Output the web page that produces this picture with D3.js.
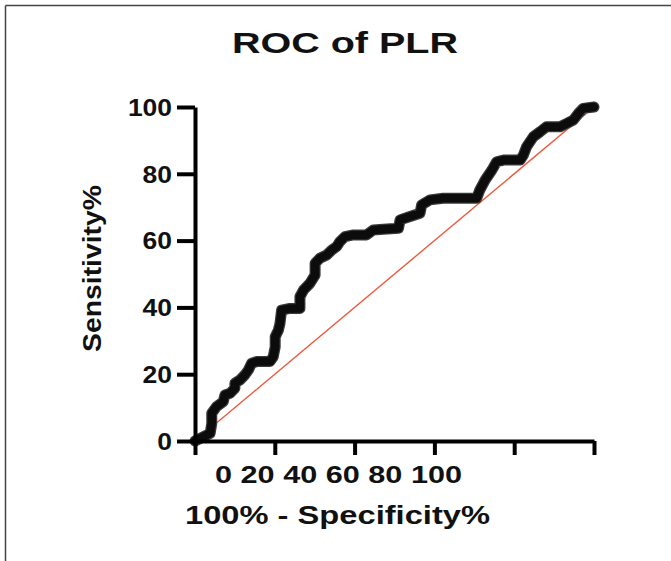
<!DOCTYPE html>
<html>
<head>
<meta charset="utf-8">
<script src="https://cdn.jsdelivr.net/npm/d3@7"></script>
<style>
  html, body { margin: 0; padding: 0; background: #fff; }
  svg { display: block; }
  text { font-family: "Liberation Sans", Arial, sans-serif; font-weight: bold; fill: #111; }
</style>
</head>
<body>
<svg id="chart" width="671" height="561"></svg>
<script>
// ---- data ----
const title = "ROC of PLR";
const xLabel = "100% - Specificity%";
const yLabel = "Sensitivity%";
const xTickValues = [0, 20, 40, 60, 80, 100];
const xTickLabels = ["0", "20", "40", "60", "80", "100"];
const yTickValues = [0, 20, 40, 60, 80, 100];
const rocX = [0, 3.8, 4.2, 4.2, 5.4, 7.1, 7.5, 8.8, 10.0, 10.0, 11.3, 12.5, 13.4, 14.2, 15.5, 18.8, 19.6, 20.1, 20.1, 20.9, 21.3, 21.7, 23.8, 26.3, 26.3, 27.2, 28.8, 30.1, 30.1, 31.3, 33.0, 34.3, 35.5, 36.3, 37.6, 39.7, 43.0, 44.7, 47.2, 51.0, 51.4, 53.9, 56.4, 56.8, 58.9, 62.2, 70.6, 71.4, 72.7, 74.4, 75.6, 77.3, 81.5, 82.3, 83.1, 84.8, 86.5, 88.1, 91.5, 93.2, 94.8, 96.1, 97.3, 100];
const rocY = [0, 2.3, 5.3, 8.3, 10.3, 11.8, 13.8, 14.3, 15.8, 17.3, 18.3, 19.8, 21.3, 23.3, 23.8, 23.8, 25.2, 28.2, 31.2, 33.2, 35.2, 39.2, 39.7, 39.7, 43.2, 45.2, 47.2, 49.7, 53.2, 54.7, 55.7, 57.2, 58.2, 59.7, 61.2, 61.7, 61.7, 63.2, 63.4, 63.7, 66.2, 67.2, 68.2, 70.7, 72.2, 72.7, 72.7, 75.2, 78.1, 81.1, 83.6, 84.1, 84.1, 85.6, 88.1, 91.1, 92.6, 94.1, 94.1, 95.1, 96.1, 98.1, 99.6, 100];
const refX = [0, 100];
const refY = [0, 100];

// ---- drawing ----
const svg = d3.select("#chart");

// frame (top and left edges)
svg.append("line").attr("x1", 5.5).attr("y1", 5.5).attr("x2", 671).attr("y2", 5.5)
  .attr("stroke", "#444").attr("stroke-width", 1.5);
svg.append("line").attr("x1", 5.5).attr("y1", 5.5).attr("x2", 5.5).attr("y2", 561)
  .attr("stroke", "#444").attr("stroke-width", 1.5);

const x = d3.scaleLinear().domain([0, 100]).range([195, 594]);
const y = d3.scaleLinear().domain([0, 100]).range([441, 107]);

// reference diagonal
const refData = refX.map((v, i) => [v, refY[i]]);
svg.append("path")
  .datum(refData)
  .attr("d", d3.line().x(d => x(d[0])).y(d => y(d[1])))
  .attr("fill", "none").attr("stroke", "#ec5a3c").attr("stroke-width", 1.4);

// ROC curve
const rocData = rocX.map((v, i) => [v, rocY[i]]);
svg.append("path")
  .datum(rocData)
  .attr("d", d3.line().x(d => x(d[0])).y(d => y(d[1])))
  .attr("fill", "none").attr("stroke", "#3a3a3a").attr("stroke-width", 11)
  .attr("stroke-linejoin", "round").attr("stroke-linecap", "round");
svg.append("path")
  .datum(rocData)
  .attr("d", d3.line().x(d => x(d[0])).y(d => y(d[1])))
  .attr("fill", "none").attr("stroke", "#0c0c0c").attr("stroke-width", 8.5)
  .attr("stroke-linejoin", "round").attr("stroke-linecap", "round");

// x axis
const gx = svg.append("g").attr("transform", "translate(0,441)")
  .call(d3.axisBottom(x).tickValues(xTickValues).tickFormat("").tickSize(14).tickSizeOuter(0));
gx.select(".domain").attr("stroke", "#000").attr("stroke-width", 4);
gx.selectAll(".tick line").attr("stroke", "#000").attr("stroke-width", 4);

// x tick labels (drawn as one run, as in the reference)
svg.append("text")
  .attr("x", 215).attr("y", 483)
  .attr("font-size", 23)
  .attr("textLength", 247).attr("lengthAdjust", "spacingAndGlyphs")
  .text(xTickLabels.join(" "));

// y axis
const gy = svg.append("g").attr("transform", "translate(195,0)")
  .call(d3.axisLeft(y).tickValues(yTickValues).tickSize(18).tickSizeOuter(0).tickPadding(5));
gy.select(".domain").attr("stroke", "#000").attr("stroke-width", 4);
gy.selectAll(".tick line").attr("stroke", "#000").attr("stroke-width", 4);
gy.selectAll(".tick text")
  .attr("font-family", "'Liberation Sans', Arial, sans-serif")
  .attr("font-weight", "bold").attr("font-size", 23).attr("fill", "#111")
  .attr("dy", "0.36em")
  .each(function() {
    const t = d3.select(this);
    const w = this.getComputedTextLength();
    t.attr("textLength", w * 1.15).attr("lengthAdjust", "spacingAndGlyphs");
  });

// title
svg.append("text")
  .attr("x", 232).attr("y", 53)
  .attr("font-size", 29)
  .attr("textLength", 226).attr("lengthAdjust", "spacingAndGlyphs")
  .text(title);

// x label
svg.append("text")
  .attr("x", 185).attr("y", 524)
  .attr("font-size", 26)
  .attr("textLength", 305).attr("lengthAdjust", "spacingAndGlyphs")
  .text(xLabel);

// y label
svg.append("text")
  .attr("transform", "translate(101,352) rotate(-90)")
  .attr("x", 0).attr("y", 0)
  .attr("font-size", 25)
  .attr("textLength", 167).attr("lengthAdjust", "spacingAndGlyphs")
  .text(yLabel);
</script>
</body>
</html>
